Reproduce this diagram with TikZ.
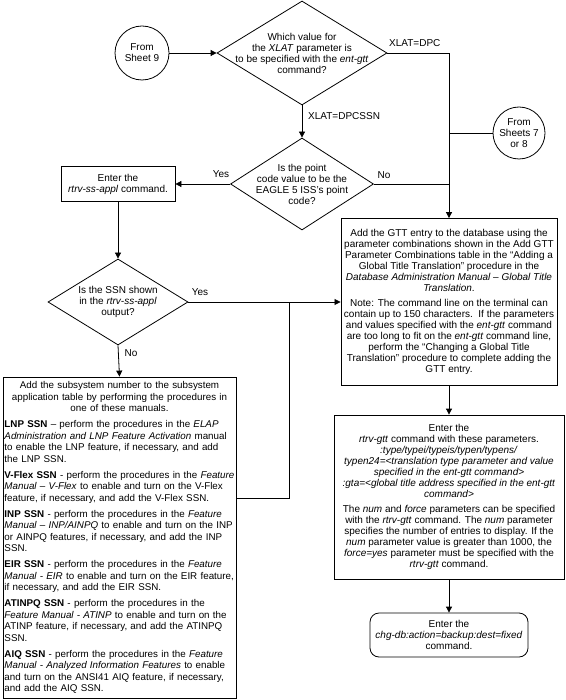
\documentclass[tikz,border=0pt]{standalone}
\usepackage{fontspec}
\setmainfont{Liberation Sans}
\usetikzlibrary{arrows.meta,shapes.geometric}
\begin{document}
\begin{tikzpicture}[x=1pt,y=-1pt,
  every node/.style={font=\fontsize{10}{11}\selectfont},
  ln/.style={line width=0.8pt},
  arr/.style={ln,-{Triangle[length=6pt,width=6pt]}},
  box/.style={draw,ln,rectangle,align=center,inner sep=3pt},
  rbox/.style={box,rounded corners=9pt},
  circ/.style={draw,ln,circle,minimum size=54pt,inner sep=0pt,align=center},
  dia/.style={draw,ln,diamond,inner sep=0pt},
  txt/.style={align=center,inner sep=0pt},
  lbl/.style={inner sep=0pt}]
\useasboundingbox (0,0) rectangle (565,700);

% nodes
\node[circ] (s9) at (142,53) {From\\Sheet 9};
\node[dia,minimum width=170,minimum height=104] (d1) at (302,53) {};
\node[txt] (d1t) at (302,53) {Which value for\\the \textit{XLAT} parameter is\\to be specified with the \textit{ent-gtt}\\command?};
\node[circ,minimum size=52pt] (s78) at (519,133) {From\\Sheets 7\\or 8};

\node[dia,minimum width=143,minimum height=92] (d2) at (302,184) {};
\node[txt] (d2t) at (302,184) {Is the point\\code value to be the\\EAGLE 5 ISS's point\\code?};

\node[box,minimum width=114,minimum height=35] (e1) at (118,184) {Enter the\\\textit{rtrv-ss-appl} command.};

\node[dia,minimum width=140,minimum height=86] (d3) at (118,302) {};
\node[txt] (d3t) at (118,302) {Is the SSN shown\\in the \textit{rtrv-ss-appl}\\output?};

\node[box,font=\fontsize{9.8}{11.5}\selectfont,text width=230pt,inner xsep=1.5pt,align=left,minimum height=321] (lb) at (119.5,537.5) {%
\setlength{\parindent}{0pt}\setlength{\parskip}{4.5pt}%
{\centering \mbox{Add the subsystem number to the subsystem}\\\mbox{application table by performing the procedures in}\\\mbox{one of these manuals.}\par}
\raggedright
\mbox{\textbf{LNP SSN} -- perform the procedures in the \textit{ELAP}}\\\mbox{\textit{Administration and LNP Feature Activation} manual}\\\mbox{to enable the LNP feature, if necessary, and add}\\\mbox{the LNP SSN.}\par
\mbox{\textbf{V-Flex SSN} - perform the procedures in the \textit{Feature}}\\\mbox{\textit{Manual -- V-Flex} to enable and turn on the V-Flex}\\\mbox{feature, if necessary, and add the V-Flex SSN.}\par
\mbox{\textbf{INP SSN} - perform the procedures in the \textit{Feature}}\\\mbox{\textit{Manual -- INP/AINPQ} to enable and turn on the INP}\\\mbox{or AINPQ features, if necessary, and add the INP}\\\mbox{SSN.}\par
\mbox{\textbf{EIR SSN} - perform the procedures in the \textit{Feature}}\\\mbox{\textit{Manual - EIR} to enable and turn on the EIR feature,}\\\mbox{if necessary, and add the EIR SSN.}\par
\mbox{\textbf{ATINPQ SSN} - perform the procedures in the}\\\mbox{\textit{Feature Manual - ATINP} to enable and turn on the}\\\mbox{ATINP feature, if necessary, and add the ATINPQ}\\\mbox{SSN.}\par
\mbox{\textbf{AIQ SSN} - perform the procedures in the \textit{Feature}}\\\mbox{\textit{Manual - Analyzed Information Features} to enable}\\\mbox{and turn on the ANSI41 AIQ feature, if necessary,}\\\mbox{and add the AIQ SSN.}};

\node[box,minimum width=212,minimum height=167] (g) at (449,302) {%
Add the GTT entry to the database using the\\
parameter combinations shown in the Add GTT\\
Parameter Combinations table in the ``Adding a\\
Global Title Translation'' procedure in the\\
\textit{Database Administration Manual -- Global Title}\\
\textit{Translation}.\\[4pt]
Note: The command line on the terminal can\\
contain up to 150 characters.\ \ If the parameters\\
and values specified with the \textit{ent-gtt} command\\
are too long to fit on the \textit{ent-gtt} command line,\\
perform the ``Changing a Global Title\\
Translation'' procedure to complete adding the\\
GTT entry.};

\node[box,minimum width=230,minimum height=164] (r) at (449,497) {%
Enter the\\
\textit{rtrv-gtt} command with these parameters.\\
\textit{:type/typei/typeis/typen/typens/}\\
\textit{typen24=<translation type parameter and value}\\
\textit{specified in the ent-gtt command>}\\
\textit{:gta=<global title address specified in the ent-gtt}\\
\textit{command>}\\[4pt]
The \textit{num} and \textit{force} parameters can be specified\\
with the \textit{rtrv-gtt} command. The \textit{num} parameter\\
specifies the number of entries to display. If the\\
\textit{num} parameter value is greater than 1000, the\\
\textit{force=yes} parameter must be specified with the\\
\textit{rtrv-gtt} command.};

\node[rbox,minimum width=158,minimum height=44] (f) at (449,635) {Enter the\\\textit{chg-db:action=backup:dest=fixed}\\command.};

% labels
\node[lbl,anchor=west] (lx1) at (389,43) {XLAT=DPC};
\node[lbl,anchor=west] (lx2) at (308,116) {XLAT=DPCSSN};
\node[lbl] (ly1) at (221,174) {Yes};
\node[lbl] (ln1) at (384,175) {No};
\node[lbl] (ly2) at (200,292) {Yes};
\node[lbl] (ln2) at (131,353) {No};

% connectors
\coordinate (yj) at (289,302);
\draw[arr] (s9) -- (d1.west);
\draw[arr] (d1.east) -| (g.north);
\draw[ln] (s78.west) -- (s78.west -| g.north);
\draw[arr] (d1.south) -- (d2.north);
\draw[arr] (d2.west) -- (e1.east);
\draw[ln] (d2.east) -- (d2.east -| g.north);
\draw[arr] (e1.south) -- (d3.north);
\draw[arr] (d3.east) -- (g.west);
\draw[arr] (d3.south) -- (lb.north);
\draw[ln] ([yshift=39.5pt]lb.east) -| (yj);
\draw[arr] (g.south) -- (r.north);
\draw[arr] (r.south) -- (f.north);
\end{tikzpicture}
\end{document}
